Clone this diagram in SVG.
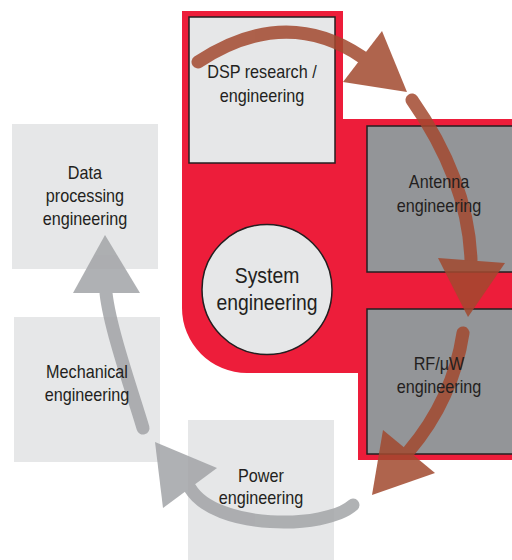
<svg xmlns="http://www.w3.org/2000/svg" width="512" height="560" viewBox="0 0 512 560">
<style>
.lbl{font-family:"Liberation Sans",Arial,sans-serif;font-size:18px;fill:#231f20;text-anchor:middle}
.big{font-size:21.5px}
.light{fill:#e6e7e8}
.core{fill:#e6e7e8;stroke:#231f20;stroke-width:1.5}
.dark{fill:#939598;stroke:#231f20;stroke-width:1.5}
.rshaft{fill:none;stroke:#a2492f;stroke-width:13;stroke-linecap:round}
.rhead{fill:#a2492f}
.gshaft{fill:none;stroke:#a2a4a7;stroke-width:13;stroke-linecap:round}
.ghead{fill:#a2a4a7}
</style>
<path id="team" d="M182,11 H343 V119 H512 V460 H358 V373 H247 A65,65 0 0 1 182,308 Z" fill="#ed1d3a"/>
<g id="data"><rect class="light" x="12" y="124" width="146" height="145"/></g>
<g id="mech"><rect class="light" x="14" y="317" width="146" height="145"/></g>
<g id="power"><rect class="light" x="188" y="420" width="146" height="140"/></g>
<g id="dsp"><rect class="core" x="189" y="17" width="146" height="146"/></g>
<g id="antenna"><rect class="dark" x="367" y="126" width="150" height="146"/></g>
<g id="rf"><rect class="dark" x="367" y="309" width="150" height="145"/></g>
<g id="system"><circle class="core" cx="267" cy="289.5" r="65"/></g>
<g id="connectors">
<g opacity="0.85">
<path class="rshaft" d="M198,62 Q285,5 362,57"/>
<polygon class="rhead" points="382,31 343,82 407,92"/>
</g>
<g opacity="0.85">
<path class="rshaft" d="M412,100 Q468,180 471,260"/>
<polygon class="rhead" points="438,258 505,263 468,317"/>
</g>
<g opacity="0.85">
<path class="rshaft" d="M463,333 Q453,399 409,451"/>
<polygon class="rhead" points="383,430 435,473 372,495"/>
</g>
<g opacity="0.85">
<path class="gshaft" d="M353,505 C325,530 215,530 190,488"/>
<polygon class="ghead" points="217,468 163,508 155,442"/>
</g>
<g opacity="0.85">
<path class="gshaft" d="M143,428 C135,400 110,330 106,293"/>
<polygon class="ghead" points="73,293 140,293 105,235"/>
</g>
</g>
<g id="labels" transform="scale(0.9 1)">
<g id="data-label"><text class="lbl" x="94.4" y="179">Data</text><text class="lbl" x="94.4" y="202">processing</text><text class="lbl" x="94.4" y="225">engineering</text></g>
<g id="mech-label"><text class="lbl" x="96.7" y="378">Mechanical</text><text class="lbl" x="96.7" y="401">engineering</text></g>
<g id="power-label"><text class="lbl" x="290" y="482">Power</text><text class="lbl" x="290" y="504">engineering</text></g>
<g id="dsp-label"><text class="lbl" x="291.1" y="78">DSP research /</text><text class="lbl" x="291.1" y="102">engineering</text></g>
<g id="antenna-label"><text class="lbl" x="487.8" y="188">Antenna</text><text class="lbl" x="487.8" y="212">engineering</text></g>
<g id="rf-label"><text class="lbl" x="487.8" y="370">RF/μW</text><text class="lbl" x="487.8" y="393">engineering</text></g>
<g id="system-label"><text class="lbl big" x="296.7" y="283">System</text><text class="lbl big" x="296.7" y="310">engineering</text></g>
</g>
</svg>
